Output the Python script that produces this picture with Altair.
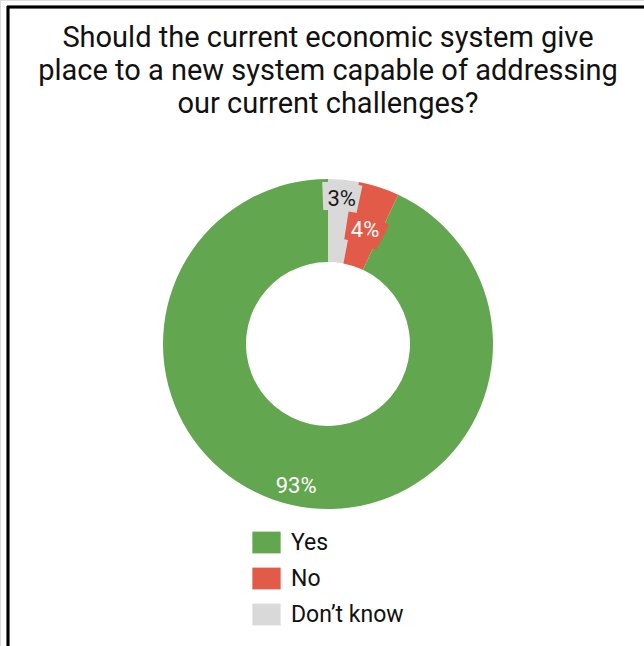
import altair as alt
import pandas as pd

title_lines = [
    "Should the current economic system give",
    "place to a new system capable of addressing",
    "our current challenges?",
]
categories = ["Don\u2019t know", "No", "Yes"]
values = [3, 4, 93]
labels = ["3%", "4%", "93%"]
legend_order = ["Yes", "No", "Don\u2019t know"]
colors = {"Yes": "#62A64F", "No": "#E25A48", "Don\u2019t know": "#D9D9D9"}
label_colors = ["#1a1a1a", "#ffffff", "#ffffff"]

df = pd.DataFrame({
    "category": categories,
    "value": values,
    "label": labels,
    "labelColor": label_colors,
    "order": list(range(len(categories))),
})

CX, CY = 328, 344
FONT = "Roboto"

color_scale = alt.Scale(domain=legend_order, range=[colors[c] for c in legend_order])

arcs = alt.Chart(df).mark_arc(innerRadius=82, outerRadius=165, stroke=None).encode(
    theta=alt.Theta("value:Q", stack=True, scale=alt.Scale(range=[0, 6.283185307])),
    order=alt.Order("order:Q"),
    x=alt.value(CX),
    y=alt.value(CY),
    color=alt.Color(
        "category:N",
        scale=color_scale,
        sort=legend_order,
        legend=alt.Legend(
            title=None,
            orient="none",
            legendX=252,
            legendY=528,
            symbolType="M-1,-0.77H1V0.77H-1Z",
            symbolSize=800,
            symbolStrokeWidth=0,
            symbolOpacity=1,
            labelFont=FONT,
            labelFontSize=23,
            labelColor="#111111",
            rowPadding=9,
            labelOffset=10,
            symbolOffset=0,
        ),
    ),
)

# label backgrounds (same colour as the slice) for the narrow slices
bg = (
    alt.Chart(df)
    .transform_joinaggregate(total="sum(value)")
    .transform_window(cum="sum(value)", sort=[alt.SortField("order")])
    .transform_calculate(mid="(datum.cum - datum.value/2) / datum.total * 2 * PI")
    .transform_filter("datum.value < 10")
    .transform_calculate(
        r="datum.category == 'No' ? 120 : 148",
        t1="datum.mid - (datum.category == 'No' ? 0.16 : 0.13)",
        t2="datum.mid + (datum.category == 'No' ? 0.16 : 0.12)",
    )
    .transform_calculate(r1="datum.r - 14", r2="min(datum.r + 14, 165)")
    .mark_arc(stroke=None)
    .encode(
        theta=alt.Theta("t1:Q", scale=None),
        theta2="t2:Q",
        radius=alt.Radius("r1:Q", scale=None),
        radius2="r2:Q",
        color=alt.Color("category:N", scale=color_scale, legend=None),
        x=alt.value(CX),
        y=alt.value(CY),
    )
)

text = (
    alt.Chart(df)
    .transform_joinaggregate(total="sum(value)")
    .transform_window(cum="sum(value)", sort=[alt.SortField("order")])
    .transform_calculate(
        mid="(datum.cum - datum.value/2) / datum.total * 2 * PI",
        r="datum.category == 'No' ? 120 : 146",
    )
    .transform_calculate(
        px=f"{CX} + datum.r * sin(datum.mid)",
        py=f"{CY} - datum.r * cos(datum.mid)",
    )
    .mark_text(font=FONT, fontSize=22, baseline="middle", align="center")
    .encode(
        x=alt.X("px:Q", scale=None),
        y=alt.Y("py:Q", scale=None),
        text="label:N",
        color=alt.Color("labelColor:N", scale=None),
    )
)

title = (
    alt.Chart(pd.DataFrame({"line": title_lines, "i": [0, 1, 2]}))
    .transform_calculate(ty="38 + datum.i * 33")
    .mark_text(font=FONT, fontSize=29, color="#111111", align="center", baseline="middle")
    .encode(x=alt.value(CX), y=alt.Y("ty:Q", scale=None), text="line:N")
)

border_top = alt.Chart(df).mark_rule(color="#000000", strokeWidth=2.5).encode(
    x=alt.value(7), x2=alt.value(644), y=alt.value(7)
)
border_left = alt.Chart(df).mark_rule(color="#000000", strokeWidth=2.5).encode(
    x=alt.value(8), y=alt.value(6), y2=alt.value(646)
)

chart = (
    alt.layer(arcs, bg, text, title, border_top, border_left)
    .properties(width=644, height=646, padding=0, autosize=alt.AutoSizeParams(type="none"))
    .configure_view(stroke=None)
    .configure(background="#ffffff")
)

chart.save("out.html", embed_options={"renderer": "svg", "actions": False})
